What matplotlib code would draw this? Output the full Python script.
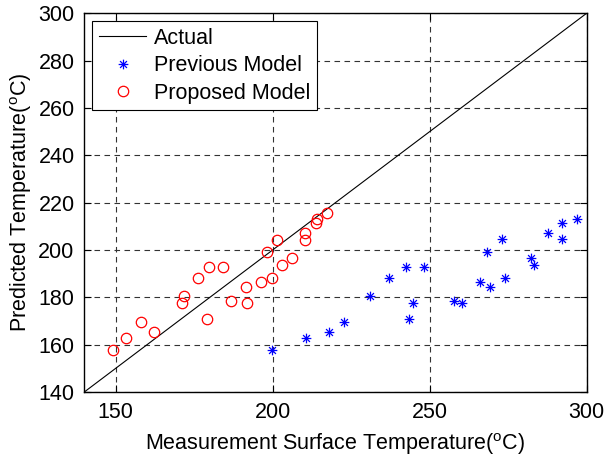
import matplotlib
matplotlib.use("Agg")
import matplotlib.pyplot as plt
from matplotlib.path import Path
import numpy as np

plt.rcParams["font.family"] = ["Liberation Sans", "DejaVu Sans"]

# Actual (y = x) reference line
actual_x = [140, 300]
actual_y = [140, 300]

# Previous model: measured vs predicted
prev_meas = [199.9, 210.5, 217.8, 222.8, 231.1, 237.0, 242.5, 243.4, 244.7, 248.3,
             257.8, 260.3, 266.1, 268.2, 269.2, 273.1, 274.0, 282.3, 283.2, 287.6,
             292.1, 292.1, 296.8]
prev_pred = [157.9, 162.8, 165.2, 169.7, 180.4, 188.0, 192.7, 170.7, 177.6, 192.7,
             178.6, 177.6, 186.5, 199.3, 184.4, 204.7, 188.0, 196.8, 193.8, 207.2,
             211.5, 204.7, 213.0]

# Proposed model: measured vs predicted
prop_meas = [149.2, 153.3, 158.1, 162.2, 171.2, 171.9, 176.2, 179.6, 179.2, 184.1,
             186.6, 191.8, 191.5, 196.3, 199.7, 198.3, 201.5, 203.0, 206.2, 210.4,
             210.4, 213.7, 214.1, 217.4]
prop_pred = [157.9, 162.8, 169.7, 165.2, 177.6, 180.6, 188.0, 192.7, 170.7, 192.7,
             178.6, 177.6, 184.4, 186.5, 188.0, 199.3, 204.4, 193.8, 196.8, 204.4,
             207.2, 211.5, 213.1, 215.5]

x_ticks = [150, 200, 250, 300]
y_ticks = [140, 160, 180, 200, 220, 240, 260, 280, 300]

# MATLAB-style asterisk: "+" and "x" overlaid
d = 0.7071
asterisk = Path(
    [(-1, 0), (1, 0), (0, -1), (0, 1), (-d, -d), (d, d), (-d, d), (d, -d)],
    [Path.MOVETO, Path.LINETO] * 4,
)

fig = plt.figure(figsize=(6.06, 4.58), dpi=100)
ax = fig.add_axes([0.139, 0.144, 0.829, 0.827])

ax.plot(actual_x, actual_y, color="black", linewidth=0.8, label="Actual")
ax.plot(prev_meas, prev_pred, linestyle="none", marker=asterisk, markersize=7,
        markerfacecolor="none", markeredgecolor="blue", markeredgewidth=0.9,
        label="Previous Model")
ax.plot(prop_meas, prop_pred, linestyle="none", marker="o", markersize=7.5,
        markerfacecolor="none", markeredgecolor="red", markeredgewidth=0.9,
        label="Proposed Model")

ax.set_xlim(140, 300)
ax.set_ylim(140, 300)
ax.set_xticks(x_ticks)
ax.set_yticks(y_ticks)
ax.tick_params(direction="in", labelsize=15.5, length=5, top=True, right=True, pad=7)
ax.grid(True, linestyle=(0, (5, 4)), color="#333333", linewidth=0.8)
for s in ax.spines.values():
    s.set_linewidth(1.0)

ax.set_xlabel("Measurement Surface Temperature($\\mathregular{^oC}$)", fontsize=15.5,
              labelpad=6)
ax.set_ylabel("Predicted Temperature($\\mathregular{^oC}$)", fontsize=15.5, labelpad=3)

leg = ax.legend(loc="upper left", fontsize=15.5, frameon=True, fancybox=False,
                edgecolor="black", borderaxespad=0.38, handlelength=2.2,
                handletextpad=0.35, labelspacing=0.3, borderpad=0.3)
leg.get_frame().set_linewidth(0.8)
leg.get_frame().set_alpha(1.0)

fig.savefig("out.png", dpi=100)
